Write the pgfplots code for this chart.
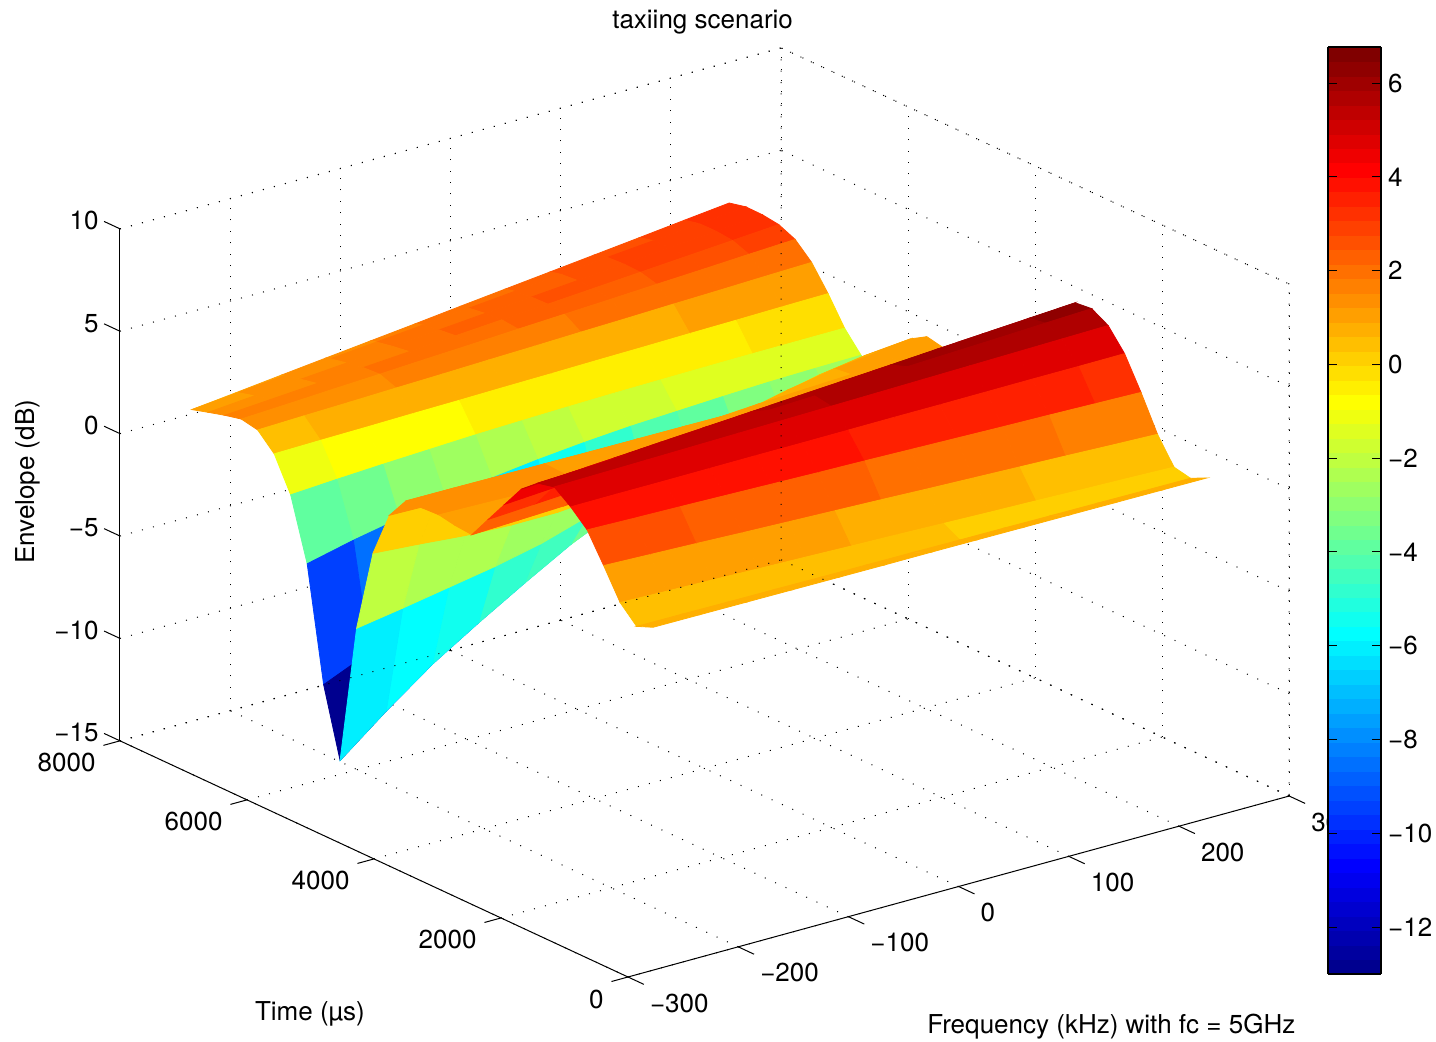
\documentclass[border=0pt]{standalone}
\usepackage{pgfplots}
\pgfplotsset{compat=1.18}
\usepackage{fontspec}
\setmainfont{TeX Gyre Heros}
\usetikzlibrary{calc}
\pgfplotsset{
  colormap={mjetbase}{rgb(0pt)=(0,0,0.5625) rgb(7pt)=(0,0,1) rgb(23pt)=(0,1,1) rgb(39pt)=(1,1,0) rgb(55pt)=(1,0,0) rgb(63pt)=(0.5,0,0)},
  colormap={mjet}{samples of colormap=(64 of mjetbase)},
}
\newcommand{\fs}{\fontsize{13}{15}\selectfont}
\tikzset{dots/.style={line width=0.5pt,dash pattern=on 0.5pt off 5.2pt,black}}
\begin{document}
\begin{tikzpicture}
\begin{axis}[
  x={(0.551pt,0.1508pt)}, y={(-0.03175pt,0.01475pt)}, z={(0pt,10.24pt)},
  xmin=-300,xmax=300,ymin=0,ymax=8000,zmin=-15,zmax=10,
  xtick={-300,-200,-100,0,100,200,300},
  xticklabels={−300,−200,−100,0,100,200,300},
  ytick={0,2000,4000,6000,8000},
  yticklabels={0,2000,4000,6000,8000},
  ztick={-15,-10,-5,0,5,10},
  zticklabels={−15,−10,−5,0,5,10},
  tick label style={font=\fs},
  xticklabel style={anchor=west,xshift=7.5pt,yshift=-13pt},
  yticklabel style={anchor=east,xshift=-8.7pt,yshift=-11pt},
  zticklabel style={anchor=east,xshift=-7.2pt,yshift=4pt},
  label style={font=\fs},
  xlabel style={at={(axis cs:138.6,0,-23.9)},anchor=center},
  ylabel style={at={(axis cs:-588.6,0,-12.55)},anchor=center},
  zlabel style={at={(axis cs:-845,0,17.2)},anchor=center},
  title style={font=\fs,at={(axis cs:-232.3,0,30.05)},anchor=center},
  tick style={draw=none},
  major tick length=0pt,
  axis line style={draw=none},
  grid=major,
  grid style={dots},
  clip=false,
  colormap name=mjet,
  colormap access=piecewise constant,
  point meta min=-13, point meta max=6.77,
  title={taxiing scenario},
  xlabel={Frequency (kHz) with fc = 5GHz},
  ylabel={Time (µs)},
  zlabel={Envelope (dB)},
]
\addplot3[surf,shader=flat corner,z buffer=sort,mesh/rows=30,mesh/cols=13,mesh/ordering=x varies] coordinates {
(-251.3,450,.71)(-209.4,450,.70)(-167.5,450,.69)(-125.7,450,.68)(-83.8,450,.67)(-41.9,450,.66)(0,450,.66)(41.9,450,.65)(83.8,450,.64)(125.7,450,.63)(167.5,450,.62)(209.4,450,.61)(251.3,450,.60)
(-251.3,709,.38)(-209.4,709,.37)(-167.5,709,.35)(-125.7,709,.34)(-83.8,709,.32)(-41.9,709,.31)(0,709,.30)(41.9,709,.28)(83.8,709,.27)(125.7,709,.25)(167.5,709,.24)(209.4,709,.22)(251.3,709,.21)
(-251.3,969,1.17)(-209.4,969,1.10)(-167.5,969,1.04)(-125.7,969,.97)(-83.8,969,.91)(-41.9,969,.84)(0,969,.78)(41.9,969,.71)(83.8,969,.64)(125.7,969,.58)(167.5,969,.51)(209.4,969,.45)(251.3,969,.38)
(-251.3,1228,2.60)(-209.4,1228,2.52)(-167.5,1228,2.44)(-125.7,1228,2.35)(-83.8,1228,2.27)(-41.9,1228,2.19)(0,1228,2.11)(41.9,1228,2.02)(83.8,1228,1.94)(125.7,1228,1.86)(167.5,1228,1.78)(209.4,1228,1.69)(251.3,1228,1.61)
(-251.3,1488,3.97)(-209.4,1488,3.91)(-167.5,1488,3.86)(-125.7,1488,3.80)(-83.8,1488,3.74)(-41.9,1488,3.68)(0,1488,3.63)(41.9,1488,3.57)(83.8,1488,3.51)(125.7,1488,3.45)(167.5,1488,3.40)(209.4,1488,3.34)(251.3,1488,3.28)
(-251.3,1747,4.72)(-209.4,1747,4.73)(-167.5,1747,4.73)(-125.7,1747,4.74)(-83.8,1747,4.75)(-41.9,1747,4.75)(0,1747,4.76)(41.9,1747,4.77)(83.8,1747,4.77)(125.7,1747,4.78)(167.5,1747,4.79)(209.4,1747,4.79)(251.3,1747,4.80)
(-251.3,2006,5.32)(-209.4,2006,5.36)(-167.5,2006,5.40)(-125.7,2006,5.44)(-83.8,2006,5.48)(-41.9,2006,5.52)(0,2006,5.56)(41.9,2006,5.60)(83.8,2006,5.64)(125.7,2006,5.68)(167.5,2006,5.72)(209.4,2006,5.76)(251.3,2006,5.80)
(-251.3,2266,5.13)(-209.4,2266,5.22)(-167.5,2266,5.32)(-125.7,2266,5.41)(-83.8,2266,5.50)(-41.9,2266,5.60)(0,2266,5.69)(41.9,2266,5.78)(83.8,2266,5.88)(125.7,2266,5.97)(167.5,2266,6.06)(209.4,2266,6.16)(251.3,2266,6.25)
(-251.3,2525,4.46)(-209.4,2525,4.60)(-167.5,2525,4.74)(-125.7,2525,4.89)(-83.8,2525,5.03)(-41.9,2525,5.17)(0,2525,5.31)(41.9,2525,5.45)(83.8,2525,5.59)(125.7,2525,5.74)(167.5,2525,5.88)(209.4,2525,6.02)(251.3,2525,6.16)
(-251.3,2785,3.35)(-209.4,2785,3.50)(-167.5,2785,3.66)(-125.7,2785,3.81)(-83.8,2785,3.97)(-41.9,2785,4.12)(0,2785,4.28)(41.9,2785,4.43)(83.8,2785,4.58)(125.7,2785,4.74)(167.5,2785,4.89)(209.4,2785,5.05)(251.3,2785,5.20)
(-251.3,3044,2.24)(-209.4,3044,2.37)(-167.5,3044,2.50)(-125.7,3044,2.63)(-83.8,3044,2.76)(-41.9,3044,2.89)(0,3044,3.02)(41.9,3044,3.15)(83.8,3044,3.28)(125.7,3044,3.41)(167.5,3044,3.54)(209.4,3044,3.67)(251.3,3044,3.80)
(-251.3,3303,1.12)(-209.4,3303,1.21)(-167.5,3303,1.30)(-125.7,3303,1.39)(-83.8,3303,1.48)(-41.9,3303,1.57)(0,3303,1.66)(41.9,3303,1.75)(83.8,3303,1.84)(125.7,3303,1.93)(167.5,3303,2.02)(209.4,3303,2.11)(251.3,3303,2.20)
(-251.3,3563,1.19)(-209.4,3563,1.17)(-167.5,3563,1.15)(-125.7,3563,1.14)(-83.8,3563,1.13)(-41.9,3563,1.11)(0,3563,1.10)(41.9,3563,1.08)(83.8,3563,1.06)(125.7,3563,1.05)(167.5,3563,1.03)(209.4,3563,1.02)(251.3,3563,1.00)
(-251.3,3822,1.34)(-209.4,3822,1.29)(-167.5,3822,1.23)(-125.7,3822,1.18)(-83.8,3822,1.13)(-41.9,3822,1.07)(0,3822,1.02)(41.9,3822,.97)(83.8,3822,.91)(125.7,3822,.86)(167.5,3822,.81)(209.4,3822,.75)(251.3,3822,.70)
(-251.3,4082,1.30)(-209.4,4082,1.27)(-167.5,4082,1.23)(-125.7,4082,1.20)(-83.8,4082,1.17)(-41.9,4082,1.13)(0,4082,1.10)(41.9,4082,1.07)(83.8,4082,1.03)(125.7,4082,1.00)(167.5,4082,.97)(209.4,4082,.93)(251.3,4082,.90)
(-251.3,4341,1.27)(-209.4,4341,1.26)(-167.5,4341,1.24)(-125.7,4341,1.23)(-83.8,4341,1.21)(-41.9,4341,1.20)(0,4341,1.19)(41.9,4341,1.17)(83.8,4341,1.16)(125.7,4341,1.14)(167.5,4341,1.13)(209.4,4341,1.11)(251.3,4341,1.10)
(-251.3,4600,.20)(-209.4,4600,.15)(-167.5,4600,.10)(-125.7,4600,.10)(-83.8,4600,.15)(-41.9,4600,.25)(0,4600,.40)(41.9,4600,.55)(83.8,4600,.70)(125.7,4600,.80)(167.5,4600,.90)(209.4,4600,.95)(251.3,4600,.97)
(-251.3,4860,-2.03)(-209.4,4860,-2.20)(-167.5,4860,-2.40)(-125.7,4860,-2.50)(-83.8,4860,-2.50)(-41.9,4860,-2.30)(0,4860,-1.60)(41.9,4860,-.80)(83.8,4860,-.10)(125.7,4860,.40)(167.5,4860,.80)(209.4,4860,1.05)(251.3,4860,1.14)
(-251.3,5119,-6.07)(-209.4,5119,-5.70)(-167.5,5119,-5.30)(-125.7,5119,-4.90)(-83.8,5119,-4.40)(-41.9,5119,-3.70)(0,5119,-2.80)(41.9,5119,-1.90)(83.8,5119,-1.10)(125.7,5119,-.40)(167.5,5119,.10)(209.4,5119,.45)(251.3,5119,.66)
(-251.3,5379,-12.9)(-209.4,5379,-11.1)(-167.5,5379,-9.43)(-125.7,5379,-8.03)(-83.8,5379,-6.70)(-41.9,5379,-5.43)(0,5379,-4.40)(41.9,5379,-3.50)(83.8,5379,-2.80)(125.7,5379,-2.10)(167.5,5379,-1.50)(209.4,5379,-.90)(251.3,5379,-.30)
(-251.3,5638,-9.57)(-209.4,5638,-8.60)(-167.5,5638,-7.70)(-125.7,5638,-6.90)(-83.8,5638,-6.20)(-41.9,5638,-5.50)(0,5638,-4.90)(41.9,5638,-4.30)(83.8,5638,-3.80)(125.7,5638,-3.30)(167.5,5638,-2.90)(209.4,5638,-2.50)(251.3,5638,-2.20)
(-251.3,5897,-4.04)(-209.4,5897,-3.51)(-167.5,5897,-3.07)(-125.7,5897,-2.68)(-83.8,5897,-2.32)(-41.9,5897,-2.04)(0,5897,-1.82)(41.9,5897,-1.65)(83.8,5897,-1.54)(125.7,5897,-1.43)(167.5,5897,-1.34)(209.4,5897,-1.29)(251.3,5897,-1.26)
(-251.3,6157,-1.05)(-209.4,6157,-.91)(-167.5,6157,-.79)(-125.7,6157,-.69)(-83.8,6157,-.59)(-41.9,6157,-.52)(0,6157,-.46)(41.9,6157,-.41)(83.8,6157,-.38)(125.7,6157,-.35)(167.5,6157,-.33)(209.4,6157,-.32)(251.3,6157,-.31)
(-251.3,6416,.58)(-209.4,6416,.62)(-167.5,6416,.65)(-125.7,6416,.69)(-83.8,6416,.72)(-41.9,6416,.76)(0,6416,.79)(41.9,6416,.83)(83.8,6416,.86)(125.7,6416,.90)(167.5,6416,.93)(209.4,6416,.97)(251.3,6416,1.00)
(-251.3,6676,1.37)(-209.4,6676,1.44)(-167.5,6676,1.50)(-125.7,6676,1.57)(-83.8,6676,1.63)(-41.9,6676,1.70)(0,6676,1.76)(41.9,6676,1.83)(83.8,6676,1.89)(125.7,6676,1.96)(167.5,6676,2.02)(209.4,6676,2.09)(251.3,6676,2.15)
(-251.3,6935,1.53)(-209.4,6935,1.64)(-167.5,6935,1.76)(-125.7,6935,1.87)(-83.8,6935,1.99)(-41.9,6935,2.10)(0,6935,2.22)(41.9,6935,2.33)(83.8,6935,2.44)(125.7,6935,2.56)(167.5,6935,2.67)(209.4,6935,2.79)(251.3,6935,2.90)
(-251.3,7194,1.34)(-209.4,7194,1.50)(-167.5,7194,1.66)(-125.7,7194,1.82)(-83.8,7194,1.98)(-41.9,7194,2.14)(0,7194,2.30)(41.9,7194,2.45)(83.8,7194,2.61)(125.7,7194,2.77)(167.5,7194,2.93)(209.4,7194,3.09)(251.3,7194,3.25)
(-251.3,7454,1.11)(-209.4,7454,1.30)(-167.5,7454,1.49)(-125.7,7454,1.67)(-83.8,7454,1.86)(-41.9,7454,2.05)(0,7454,2.24)(41.9,7454,2.42)(83.8,7454,2.61)(125.7,7454,2.80)(167.5,7454,2.99)(209.4,7454,3.17)(251.3,7454,3.36)
(-251.3,7713,.87)(-209.4,7713,1.08)(-167.5,7713,1.29)(-125.7,7713,1.50)(-83.8,7713,1.70)(-41.9,7713,1.91)(0,7713,2.12)(41.9,7713,2.33)(83.8,7713,2.54)(125.7,7713,2.75)(167.5,7713,2.95)(209.4,7713,3.16)(251.3,7713,3.37)
(-251.3,7713,.87)(-209.4,7735,1.06)(-167.5,7756,1.26)(-125.7,7778,1.45)(-83.8,7800,1.64)(-41.9,7821,1.83)(0,7843,2.03)(41.9,7865,2.22)(83.8,7886,2.41)(125.7,7908,2.60)(167.5,7930,2.79)(209.4,7951,2.99)(251.3,7973,3.18)
};
\draw[line width=0.5pt] (axis cs:-300,8000,-15)--(axis cs:-300,8000,10);
\draw[line width=0.5pt] (axis cs:-300,8000,-15)--(axis cs:-300,0,-15)--(axis cs:300,0,-15);
\draw[dots] (axis cs:-300,8000,10)--(axis cs:300,8000,10)--(axis cs:300,0,10)--(axis cs:300,0,-15)
  (axis cs:300,8000,10)--(axis cs:300,8000,-15)--(axis cs:-300,8000,-15) (axis cs:300,8000,-15)--(axis cs:300,0,-15);
\pgfplotsinvokeforeach{-300,-200,-100,0,100,200,300}{\draw[line width=0.5pt] (axis cs:#1,0,-15)--(axis cs:#1,-250,-15);}
\pgfplotsinvokeforeach{0,2000,4000,6000,8000}{\draw[line width=0.5pt] (axis cs:-300,#1,-15)--(axis cs:-315,#1,-15);}
\pgfplotsinvokeforeach{-15,-10,-5,0,5,10}{\draw[line width=0.5pt] (axis cs:-300,8000,#1)--(axis cs:-300,8250,#1);}
\coordinate (O) at (axis cs:-300,0,-15);
\end{axis}
\pgfplotscolorbardrawstandalone[
  colormap name=mjet,
  colormap access=piecewise constant,
  point meta min=-13, point meta max=6.77,
  colorbar sampled,
  colorbar style={
    samples=65,
    at={($(O)+(341.5pt,1.5pt)$)},
    anchor=south west,
    width=26.5pt,height=463.5pt,
    scale only axis,
    ytick={-12,-10,-8,-6,-4,-2,0,2,4,6},
    yticklabels={−12,−10,−8,−6,−4,−2,0,2,4,6},
    yticklabel pos=right,
    ytick pos=both,
    tick align=inside,
    tick label style={font=\fs},
    major tick length=4.5pt,
    tick style={black,line width=0.5pt},
    axis line style={line width=0.9pt},
  },
]
\pgfresetboundingbox
\path[use as bounding box] ($(O)+(-314pt,-32.5pt)$) rectangle ($(O)+(404pt,488.5pt)$);
\end{tikzpicture}
\end{document}
